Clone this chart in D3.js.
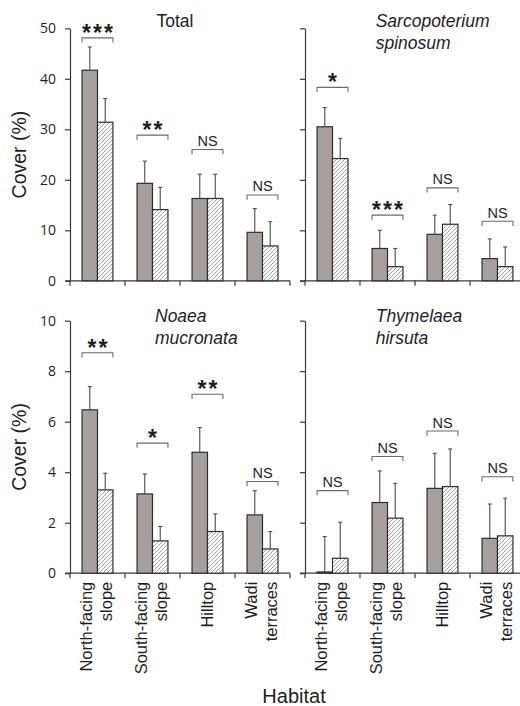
<!DOCTYPE html>
<html><head><meta charset="utf-8">
<script src="https://cdn.jsdelivr.net/npm/d3@7"></script>
<style>
html,body{margin:0;padding:0;background:#fff;}
svg{display:block;font-family:"Liberation Sans",Arial,sans-serif;}
</style></head>
<body><svg id="c" width="520" height="706"></svg>
<script>
// ---------- data ----------
const categories = ["North-facing slope","South-facing slope","Hilltop","Wadi terraces"];
const categoryLines = [["North-facing","slope"],["South-facing","slope"],["Hilltop"],["Wadi","terraces"]];
const yTicksTop = [0,10,20,30,40,50];
const yTicksBottom = [0,2,4,6,8,10];

const totalTitle = ["Total"];
const totalGrey = [41.7, 19.3, 16.3, 9.6];
const totalGreyErr = [4.6, 4.4, 4.8, 4.7];
const totalHatched = [31.4, 14.1, 16.3, 6.9];
const totalHatchedErr = [4.7, 4.4, 4.8, 4.8];
const totalSig = ["***","**","NS","NS"];
const totalSigLevel = [48.1, 28.85, 26.0, 17.0];

const sarcoTitle = ["Sarcopoterium","spinosum"];
const sarcoGrey = [30.5, 6.4, 9.2, 4.4];
const sarcoGreyErr = [3.8, 3.6, 3.8, 3.9];
const sarcoHatched = [24.2, 2.8, 11.2, 2.8];
const sarcoHatchedErr = [4.0, 3.6, 3.9, 3.9];
const sarcoSig = ["*","***","NS","NS"];
const sarcoSigLevel = [38.3, 13.0, 18.4, 11.8];

const noaeaTitle = ["Noaea","mucronata"];
const noaeaGrey = [6.47, 3.14, 4.79, 2.31];
const noaeaGreyErr = [0.92, 0.79, 0.98, 0.96];
const noaeaHatched = [3.30, 1.28, 1.65, 0.96];
const noaeaHatchedErr = [0.66, 0.57, 0.70, 0.69];
const noaeaSig = ["**","*","**","NS"];
const noaeaSigLevel = [8.73, 5.15, 7.09, 3.63];

const thymTitle = ["Thymelaea","hirsuta"];
const thymGrey = [0.05, 2.80, 3.36, 1.38];
const thymGreyErr = [1.40, 1.25, 1.39, 1.36];
const thymHatched = [0.59, 2.18, 3.43, 1.48];
const thymHatchedErr = [1.43, 1.38, 1.49, 1.49];
const thymSig = ["NS","NS","NS","NS"];
const thymSigLevel = [3.27, 4.62, 5.63, 3.82];

// ---------- drawing ----------
const svg = d3.select("#c");
const defs = svg.append("defs");
const pat = defs.append("pattern").attr("id","hatch").attr("patternUnits","userSpaceOnUse")
  .attr("width",4).attr("height",4);
pat.append("rect").attr("width",4).attr("height",4).attr("fill","#fff");
pat.append("path").attr("d","M-1,1 l2,-2 M0,4 l4,-4 M3,5 l2,-2")
  .attr("stroke","#8a8a8a").attr("stroke-width",0.8);

const AX = "#3a3a3a", TXT = "#1e1e1e";
const PW = 220, PH = 252.5;

const panels = [
  {left:70, top:28.3, yMax:50, ticks:yTicksTop, labels:true, title:totalTitle, italic:false, tx:105, tanchor:"middle", ty:-1,
   grey:totalGrey, greyErr:totalGreyErr, hat:totalHatched, hatErr:totalHatchedErr, sig:totalSig, lvl:totalSigLevel},
  {left:305, top:28.3, yMax:50, ticks:yTicksTop, labels:false, title:sarcoTitle, italic:true, tx:70.7, tanchor:"start", ty:-1,
   grey:sarcoGrey, greyErr:sarcoGreyErr, hat:sarcoHatched, hatErr:sarcoHatchedErr, sig:sarcoSig, lvl:sarcoSigLevel},
  {left:70, top:320.7, yMax:10, ticks:yTicksBottom, labels:true, title:noaeaTitle, italic:true, tx:85, tanchor:"start", ty:1,
   grey:noaeaGrey, greyErr:noaeaGreyErr, hat:noaeaHatched, hatErr:noaeaHatchedErr, sig:noaeaSig, lvl:noaeaSigLevel},
  {left:305, top:320.7, yMax:10, ticks:yTicksBottom, labels:false, title:thymTitle, italic:true, tx:70.7, tanchor:"start", ty:1,
   grey:thymGrey, greyErr:thymGreyErr, hat:thymHatched, hatErr:thymHatchedErr, sig:thymSig, lvl:thymSigLevel}
];

panels.forEach((p, pi) => {
  const g = svg.append("g");
  const x = d3.scaleBand().domain(categories).range([p.left, p.left + PW]).paddingInner(0).paddingOuter(0);
  const sub = d3.scaleBand().domain(["grey","hatched"]).range([0, x.bandwidth()]).paddingInner(0).paddingOuter(0.78);
  const y = d3.scaleLinear().domain([0, p.yMax]).range([p.top + PH, p.top]);
  const bottom = y(0);

  // y axis
  const yAxis = d3.axisLeft(y).tickValues(p.ticks).tickSize(5).tickSizeOuter(0)
    .tickFormat(p.labels ? d3.format("d") : () => "");
  const ya = g.append("g").attr("transform", `translate(${p.left},0)`).call(yAxis);
  ya.select(".domain").attr("stroke", AX).attr("stroke-width", 1.2);
  ya.selectAll(".tick line").attr("stroke", AX).attr("stroke-width", 1.2);
  ya.selectAll(".tick text").attr("fill", TXT).attr("font-size", 14).attr("x", -14)
    .attr("font-family", "'Open Sans','Liberation Sans',Arial,sans-serif");

  // x axis
  g.append("line").attr("x1", p.left - 5).attr("x2", p.left + PW).attr("y1", bottom).attr("y2", bottom)
    .attr("stroke", AX).attr("stroke-width", 1.2);
  const bounds = categories.map(c => x(c)).concat([x.range()[1]]);
  g.selectAll(".xt").data(bounds).join("line")
    .attr("x1", d => d).attr("x2", d => d).attr("y1", bottom).attr("y2", bottom + 5)
    .attr("stroke", AX).attr("stroke-width", 1.2);

  // bars
  const rows = categories.map((c, i) => ({c, i}));
  const drawSeries = (vals, errs, key, fill) => {
    g.selectAll(".bar-" + key).data(rows).join("rect")
      .attr("x", d => x(d.c) + sub(key)).attr("width", sub.bandwidth())
      .attr("y", d => y(vals[d.i])).attr("height", d => bottom - y(vals[d.i]))
      .attr("fill", fill).attr("stroke", "#2e2e2e").attr("stroke-width", 1.2);
    // error bars
    g.selectAll(".err-" + key).data(rows).join("line")
      .attr("x1", d => x(d.c) + sub(key) + sub.bandwidth() / 2)
      .attr("x2", d => x(d.c) + sub(key) + sub.bandwidth() / 2)
      .attr("y1", d => y(vals[d.i])).attr("y2", d => y(vals[d.i] + errs[d.i]))
      .attr("stroke", "#4a4a4a").attr("stroke-width", 1.1);
    g.selectAll(".cap-" + key).data(rows).join("line")
      .attr("x1", d => x(d.c) + sub(key) + sub.bandwidth() / 2 - 2)
      .attr("x2", d => x(d.c) + sub(key) + sub.bandwidth() / 2 + 2)
      .attr("y1", d => y(vals[d.i] + errs[d.i])).attr("y2", d => y(vals[d.i] + errs[d.i]))
      .attr("stroke", "#4a4a4a").attr("stroke-width", 1.1);
  };
  drawSeries(p.grey, p.greyErr, "grey", "#a69f9c");
  drawSeries(p.hat, p.hatErr, "hatched", "url(#hatch)");

  // significance brackets
  rows.forEach(d => {
    const x0 = x(d.c) + sub("grey"), x1 = x(d.c) + sub("hatched") + sub.bandwidth();
    const yb = y(p.lvl[d.i]);
    g.append("path").attr("d", `M${x0},${yb + 4.7}V${yb}H${x1}V${yb + 4.7}`)
      .attr("fill", "none").attr("stroke", "#6a6a6a").attr("stroke-width", 1.1);
    const s = p.sig[d.i];
    if (s === "NS") {
      g.append("text").attr("x", (x0 + x1) / 2).attr("y", yb - 3.5).attr("text-anchor", "middle")
        .attr("font-size", 14.5).attr("fill", TXT).text(s);
    } else {
      g.append("text").attr("x", (x0 + x1) / 2 + 1).attr("y", yb + 3).attr("text-anchor", "middle")
        .attr("font-size", 23).attr("font-weight", "bold").attr("letter-spacing", 2)
        .attr("fill", TXT).text(s);
    }
  });

  // title
  const tt = g.append("text").attr("fill", TXT).attr("font-size", 17.5)
    .attr("font-style", p.italic ? "italic" : "normal").attr("text-anchor", p.tanchor);
  p.title.forEach((line, li) => {
    tt.append("tspan").attr("x", p.left + p.tx).attr("y", p.top + p.ty + li * 22).text(line);
  });

  // category labels (bottom panels only)
  if (pi >= 2) {
    rows.forEach(d => {
      const cx = x(d.c) + x.bandwidth() / 2;
      const lines = categoryLines[d.i];
      const t = g.append("text").attr("transform", `translate(${cx},${bottom + 8.5}) rotate(-90)`)
        .attr("text-anchor", "end").attr("font-size", 16.5).attr("fill", TXT);
      const offs = lines.length === 1 ? [5] : [-5.5, 14.5];
      lines.forEach((l, li) => t.append("tspan").attr("x", 0).attr("y", offs[li]).text(l));
    });
  }

  // y label
  if (p.labels) {
    g.append("text").attr("transform", `translate(26,${p.top + PH / 2}) rotate(-90)`)
      .attr("text-anchor", "middle").attr("font-size", 19.5).attr("fill", TXT).text("Cover (%)");
  }
});

svg.append("text").attr("x", 294).attr("y", 703).attr("text-anchor", "middle")
  .attr("font-size", 20).attr("fill", TXT).text("Habitat");
</script></body></html>
